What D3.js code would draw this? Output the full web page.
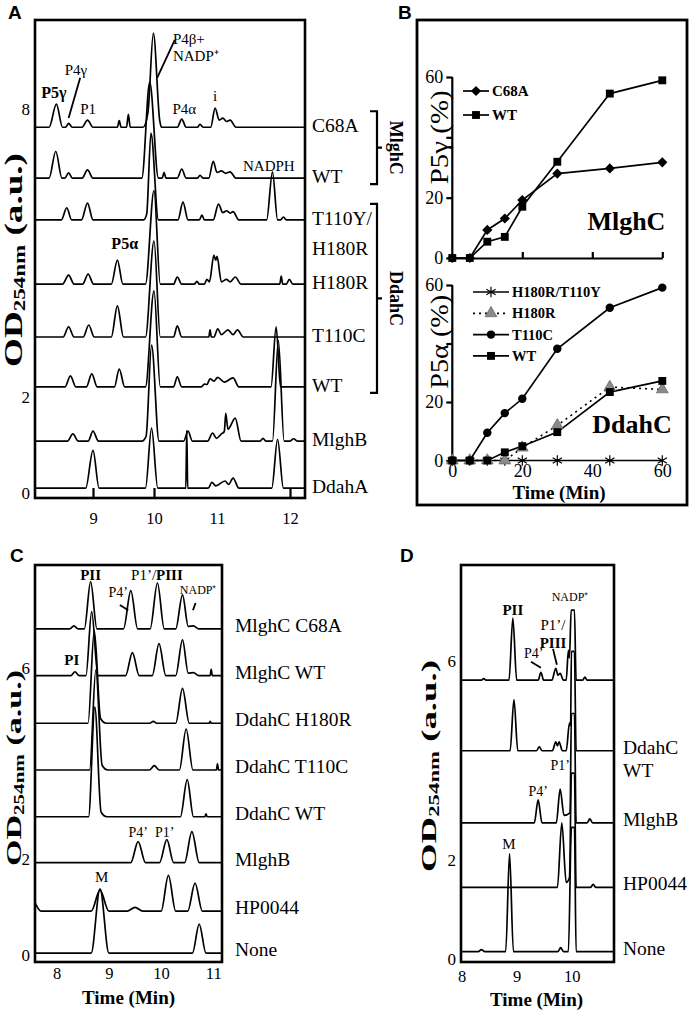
<!DOCTYPE html>
<html>
<head>
<meta charset="utf-8">
<script src="https://cdn.jsdelivr.net/npm/d3@7"></script>
<style>
body { margin: 0; background: #fff; }
</style>
</head>
<body>
<div id="chart"></div>
<script>
var serif = '"Liberation Serif","Times New Roman",serif';
var sans = '"Liberation Sans",Arial,sans-serif';
var intFmt = d3.format("d");

// ---------- panel A : chromatograms (time in min, signal in a.u. above each baseline)
var aXLabels = [9, 10, 11, 12];
var aXMarks = [9, 10, 12];
var aYLabels = [0, 2, 8];
var aNames = ["C68A", "WT", "T110Y/\nH180R", "H180R", "T110C", "WT", "MlghB", "DdahA"];
var aBase = [7.62, 6.56, 5.69, 4.35, 3.25, 2.21, 1.08, 0.1];
var aTraces = [
  [[8.28,0],[8.40,0.48],[8.50,0],[8.55,0],[8.60,0.08],[8.66,0],[8.82,0],[8.91,0.15],[9.0,0],[9.40,0],[9.43,0.14],[9.46,0],[9.55,0],[9.58,0.27],[9.61,0],[9.82,0],[9.90,0.3],[9.99,1.96],[10.09,0.15],[10.12,0],[10.37,0],[10.44,0.17],[10.51,0],[10.69,0],[10.73,0.06],[10.78,0],[10.9,0],[10.97,0.4],[11.03,0.15],[11.08,0.19],[11.13,0.12],[11.18,0.15],[11.26,0]],
  [[8.28,0],[8.39,0.56],[8.49,0],[8.54,0],[8.60,0.11],[8.66,0],[8.82,0],[8.91,0.17],[9.0,0],[9.80,0],[9.93,2.0],[10.07,0],[10.13,0],[10.16,0.12],[10.19,0],[10.37,0],[10.44,0.19],[10.51,0],[10.69,0],[10.73,0.06],[10.78,0],[10.87,0],[10.94,0.35],[11.0,0.12],[11.06,0.15],[11.12,0.1],[11.18,0.13],[11.26,0]],
  [[8.48,0],[8.57,0.25],[8.65,0],[8.81,0],[8.91,0.35],[9.0,0],[9.83,0],[9.88,0.12],[9.95,1.81],[10.07,0],[10.38,0],[10.46,0.37],[10.54,0],[10.72,0],[10.76,0.1],[10.8,0],[10.94,0],[11.02,0.33],[11.08,0.15],[11.13,0.19],[11.18,0.14],[11.22,0.17],[11.3,0],[11.68,0],[11.76,1.0],[11.83,0],[11.87,0],[11.91,0.06],[11.95,0]],
  [[8.5,0],[8.6,0.19],[8.69,0],[8.83,0],[8.92,0.21],[9.01,0],[9.3,0],[9.4,0.5],[9.49,0],[9.86,0],[10.0,1.95],[10.1,0],[10.31,0],[10.37,0.15],[10.44,0],[10.64,0],[10.68,0.06],[10.72,0],[10.8,0],[10.84,0.1],[10.88,0.05],[10.95,0.6],[10.98,0.5],[11.0,0.58],[11.06,0.05],[11.13,0.1],[11.18,0.05],[11.25,0.15],[11.33,0],[11.86,0],[11.88,0.17],[11.9,0],[11.95,0],[11.99,0.1],[12.04,0]],
  [[8.51,0],[8.6,0.21],[8.69,0],[8.84,0],[8.93,0.25],[9.02,0],[9.3,0],[9.4,0.65],[9.5,0],[9.86,0],[10.0,2.0],[10.1,0],[10.31,0],[10.37,0.23],[10.44,0],[10.87,0],[10.89,0.15],[10.91,0],[10.95,0],[11.01,0.17],[11.06,0.05],[11.15,0.15],[11.22,0.05],[11.28,0.15],[11.36,0]],
  [[8.54,0],[8.63,0.23],[8.72,0],[8.89,0],[8.98,0.27],[9.07,0],[9.35,0],[9.43,0.37],[9.52,0],[9.86,0],[10.0,2.0],[10.1,0],[10.31,0],[10.37,0.21],[10.44,0],[10.75,0],[10.8,0.06],[10.84,0.05],[10.89,0.17],[10.95,0.12],[11.01,0.2],[11.1,0.1],[11.22,0.19],[11.3,0],[11.74,0],[11.81,1.25],[11.87,0]],
  [[8.58,0],[8.67,0.15],[8.76,0],[8.92,0],[9.0,0.21],[9.09,0],[9.8,0],[9.87,0.1],[9.96,2.0],[10.08,0],[10.47,0],[10.54,0.21],[10.61,0],[10.85,0],[10.93,0.17],[10.99,0.06],[11.06,0.15],[11.1,0.2],[11.12,0.58],[11.15,0.25],[11.25,0.48],[11.33,0],[11.59,0],[11.63,0.06],[11.67,0],[11.76,0],[11.84,2.1],[11.92,0],[12.0,0],[12.05,0.05],[12.1,0]],
  [[8.88,0],[9.0,0.79],[9.1,0],[9.86,0],[9.96,1.25],[10.06,0],[10.505,0],[10.52,1.2],[10.535,0],[10.86,0],[10.92,0.12],[10.98,0.05],[11.11,0.15],[11.16,0.08],[11.22,0.21],[11.3,0],[11.75,0],[11.83,1.02],[11.91,0]]
];
var aBrackets = [["MlghC", 0, 1], ["DdahC", 2, 5]];
var aNotes = [
  {t: 8.36, v: 8.23, parts: [["P5γ", 1]], size: 16},
  {t: 8.72, v: 8.71, parts: [["P4γ", 0]], size: 15},
  {t: 8.92, v: 7.9, parts: [["P1", 0]], size: 15},
  {t: 10.3, v: 9.35, parts: [["P4β+", 0]], size: 15, anchor: "start"},
  {t: 10.3, v: 9.0, parts: [["NADP⁺", 0]], size: 15, anchor: "start"},
  {t: 10.48, v: 7.9, parts: [["P4α", 0]], size: 15},
  {t: 10.97, v: 8.17, parts: [["i", 0]], size: 15},
  {t: 11.71, v: 6.71, parts: [["NADPH", 0]], size: 15},
  {t: 9.52, v: 5.08, parts: [["P5α", 1]], size: 16}
];
var aLeaders = [[8.79, 8.65, 8.6, 7.81], [10.33, 9.44, 10.05, 8.65]];

// ---------- panel B : time course (% product)
var bTimes = [0, 5, 10, 15, 20, 30, 45, 60];
var bTicks = [0, 20, 40, 60];
var bMlghC_C68A = [0, 0, 9.3, 13.1, 19.2, 28.0, 29.7, 31.7];
var bMlghC_WT = [0, 0, 5.4, 7.0, 17.0, 31.9, 54.5, 58.9];
var bDdahC_H180R_T110Y = [0, 0, 0, 0, 0, 0, 0, 0];
var bDdahC_H180R = [0, 0, 0, 0, 4.4, 12.0, 25.1, 24.3];
var bDdahC_T110C = [0, 0, 9.5, 16.2, 21.1, 38.2, 52.2, 59.1];
var bDdahC_WT = [0, 0, 0, 2.8, 4.9, 9.7, 23.4, 27.2];

// ---------- panel C
var cXLabels = [8, 9, 10, 11];
var cYLabels = [0, 2, 6];
var cNames = ["MlghC C68A", "MlghC WT", "DdahC H180R", "DdahC T110C", "DdahC WT", "MlghB", "HP0044", "None"];
var cBase = [6.83, 5.85, 4.85, 3.87, 2.89, 1.93, 0.91, 0.03];
var cTraces = [
  [[8.25,0],[8.33,0.06],[8.41,0],[8.53,0],[8.65,0.99],[8.77,0],[9.28,0],[9.42,0.8],[9.55,0],[9.79,0],[9.93,0.96],[10.06,0],[10.28,0],[10.41,0.71],[10.52,0.05],[10.62,0.06],[10.72,0]],
  [[8.27,0],[8.35,0.08],[8.43,0],[8.56,0],[8.67,1.34],[8.79,0],[9.32,0],[9.45,0.48],[9.58,0],[9.83,0],[9.96,0.67],[10.09,0],[10.28,0],[10.41,0.75],[10.52,0.05],[10.62,0.06],[10.72,0],[10.94,0],[10.96,0.13],[10.98,0]],
  [[8.6,0],[8.72,1.95],[8.84,0.1],[8.95,0],[9.78,0],[9.85,0.04],[9.92,0],[10.28,0],[10.41,0.73],[10.54,0],[10.92,0],[10.94,0.04],[10.96,0]],
  [[8.63,0],[8.75,2.1],[8.87,0.1],[8.98,0],[9.78,0],[9.87,0.09],[9.96,0],[10.35,0],[10.48,0.86],[10.61,0],[11.06,0],[11.08,0.13],[11.1,0]],
  [[8.61,0],[8.73,2.3],[8.85,0.1],[8.96,0],[10.37,0],[10.5,0.78],[10.62,0],[10.84,0],[10.86,0.06],[10.88,0]],
  [[9.42,0],[9.56,0.44],[9.7,0],[9.97,0],[10.11,0.48],[10.24,0],[10.45,0],[10.59,0.65],[10.73,0]],
  [[7.58,0.19],[7.7,0],[8.66,0],[8.83,0.44],[9.0,0],[9.35,0],[9.5,0.08],[9.65,0],[10.0,0],[10.14,0.75],[10.28,0],[10.51,0],[10.65,0.59],[10.79,0]],
  [[8.66,0],[8.83,1.35],[9.0,0],[10.6,0],[10.73,0.61],[10.86,0]]
];
var cNotes = [
  {t: 8.65, v: 7.85, parts: [["PII", 1]], size: 15},
  {t: 9.92, v: 7.85, parts: [["P1’/", 0], ["PIII", 1]], size: 15},
  {t: 9.18, v: 7.5, parts: [["P4’", 0]], size: 14},
  {t: 10.71, v: 7.56, parts: [["NADP⁺", 0]], size: 12},
  {t: 8.29, v: 6.07, parts: [["PI", 1]], size: 15},
  {t: 9.56, v: 2.47, parts: [["P4’", 0]], size: 14},
  {t: 10.07, v: 2.47, parts: [["P1’", 0]], size: 14},
  {t: 8.86, v: 1.52, parts: [["M", 0]], size: 15}
];
var cLeaders = [[9.21, 7.33, 9.37, 7.22], [10.61, 7.22, 10.66, 7.37]];

// ---------- panel D
var dXLabels = [8, 9, 10];
var dYLabels = [0, 2, 6];
var dNames = ["", "DdahC\nWT", "MlghB", "HP0044", "None"];
var dBase = [5.61, 4.19, 2.74, 1.44, 0.15];
var dTraces = [
  [[8.36,0],[8.4,0.03],[8.44,0],[8.86,0],[8.93,1.25],[9.0,0],[9.39,0],[9.44,0.16],[9.49,0],[9.64,0],[9.71,0.24],[9.75,0.1],[9.79,0.14],[9.85,0],[9.9,0],[9.94,0.6],[9.96,0.45],[9.99,1.41],[10.05,1.41],[10.08,0],[10.2,0],[10.24,0.06],[10.28,0]],
  [[8.88,0],[8.95,1.03],[9.02,0],[9.36,0],[9.41,0.08],[9.46,0],[9.65,0],[9.71,0.18],[9.74,0.1],[9.77,0.18],[9.83,0],[9.9,0],[9.96,0.56],[9.98,0.5],[9.995,2.0],[10.05,2.0],[10.08,0]],
  [[9.32,0],[9.39,0.46],[9.46,0],[9.72,0],[9.79,0.68],[9.86,0.15],[9.97,0.2],[9.995,2.2],[10.05,2.2],[10.08,0],[10.28,0],[10.33,0.08],[10.38,0]],
  [[9.74,0],[9.82,1.3],[9.9,0.1],[9.96,0.2],[9.995,2.3],[10.05,2.3],[10.08,0],[10.34,0],[10.39,0.06],[10.44,0]],
  [[8.3,0],[8.36,0.04],[8.42,0],[8.8,0],[8.87,1.97],[8.94,0],[9.75,0],[9.8,0.08],[9.85,0],[9.94,0],[9.995,2.5],[10.05,2.5],[10.08,0]]
];
var dNotes = [
  {t: 9.97, v: 7.2, parts: [["NADP⁺", 0]], size: 12},
  {t: 8.93, v: 6.92, parts: [["PII", 1]], size: 15},
  {t: 9.66, v: 6.62, parts: [["P1’/", 0]], size: 15},
  {t: 9.66, v: 6.26, parts: [["PIII", 1]], size: 15},
  {t: 9.31, v: 6.06, parts: [["P4’", 0]], size: 14},
  {t: 9.79, v: 3.8, parts: [["P1’", 0]], size: 14},
  {t: 9.39, v: 3.28, parts: [["P4’", 0]], size: 14},
  {t: 8.86, v: 2.21, parts: [["M", 0]], size: 15}
];
var dLeaders = [[9.26, 5.98, 9.44, 5.86], [9.66, 6.24, 9.73, 5.92]];

var svg = d3.select("#chart").append("svg")
  .attr("width", 690).attr("height", 1013)
  .attr("font-family", serif);

// panel letters
[["A", 8, 19], ["B", 398, 19], ["C", 10, 562], ["D", 400, 562]].forEach(function(p){
  svg.append("text").attr("x", p[1]).attr("y", p[2])
    .attr("font-family", sans).attr("font-weight", "bold").attr("font-size", 19).text(p[0]);
});

function styleAxis(g, size){
  g.attr("font-family", serif).attr("font-size", size);
  g.select(".domain").remove();
  g.selectAll("line").attr("stroke-width", 2.2);
}

function yTitle(cx, cy, len, size){
  var t = svg.append("text").attr("transform", "translate(" + cx + "," + cy + ") rotate(-90)")
    .attr("text-anchor", "middle").attr("font-family", serif)
    .attr("font-weight", "bold").attr("font-size", size)
    .attr("textLength", len).attr("lengthAdjust", "spacingAndGlyphs");
  t.append("tspan").text("OD");
  t.append("tspan").attr("font-size", size * 0.62).attr("dy", 3).text("254nm");
  t.append("tspan").attr("dy", -3).text(" (a.u.)");
}

function drawChrom(o){
  var g = svg.append("g");
  var id = "clip" + o.id;
  svg.append("clipPath").attr("id", id).append("rect")
    .attr("x", o.frame[0]).attr("y", o.frame[1])
    .attr("width", o.frame[2] - o.frame[0]).attr("height", o.frame[3] - o.frame[1]);
  var tMin = o.x.invert(o.frame[0]), tMax = o.x.invert(o.frame[2]);
  var tg = g.append("g").attr("clip-path", "url(#" + id + ")");
  o.traces.forEach(function(pts, i){
    var p = pts.slice();
    if (p[0][0] > tMin) p.unshift([tMin, 0]);
    if (p[p.length - 1][0] < tMax) p.push([tMax, 0]);
    var line = d3.line()
      .x(function(d){ return o.x(d[0]); })
      .y(function(d){ return o.y(o.base[i] + d[1]); })
      .curve(d3.curveMonotoneX);
    tg.append("path").attr("d", line(p)).attr("fill", "none")
      .attr("stroke", "#000").attr("stroke-width", 1.7).attr("stroke-linejoin", "round");
  });
  // frame
  g.append("rect").attr("x", o.frame[0]).attr("y", o.frame[1])
    .attr("width", o.frame[2] - o.frame[0]).attr("height", o.frame[3] - o.frame[1])
    .attr("fill", "none").attr("stroke", "#000").attr("stroke-width", 2.6);
  // axes
  var ya = g.append("g").attr("transform", "translate(" + o.frame[0] + ",0)")
    .call(d3.axisLeft(o.y).tickValues(o.yLabels).tickSize(0).tickPadding(5).tickFormat(intFmt));
  styleAxis(ya, 17);
  var xa = g.append("g").attr("transform", "translate(0," + o.frame[3] + ")")
    .call(d3.axisBottom(o.x).tickValues(o.xLabels).tickSize(0).tickPadding(o.xPad).tickFormat(intFmt));
  styleAxis(xa, 16.5);
  if (o.xMarks){
    var xm = g.append("g").attr("transform", "translate(0," + o.frame[3] + ")")
      .call(d3.axisBottom(o.x).tickValues(o.xMarks).tickSize(-10).tickFormat(""));
    styleAxis(xm, 10);
  }
  if (o.title){
    g.append("text").attr("x", (o.frame[0] + o.frame[2]) / 2 + o.title[0]).attr("y", o.title[1])
      .attr("text-anchor", "middle").attr("font-weight", "bold").attr("font-size", 19).text("Time (Min)");
  }
  // trace names
  o.names.forEach(function(n, i){
    if (!n) return;
    var t = g.append("text").attr("x", o.labelX).attr("y", o.y(o.base[i]) + o.labelDy)
      .attr("font-size", 19.5).attr("dominant-baseline", "central");
    n.split("\n").forEach(function(s, k){
      t.append("tspan").attr("x", o.labelX).attr("dy", k ? o.lineGap : 0).text(s);
    });
  });
  // peak notes
  o.notes.forEach(function(n){
    var t = g.append("text").attr("x", o.x(n.t)).attr("y", o.y(n.v))
      .attr("text-anchor", n.anchor || "middle").attr("font-size", n.size);
    n.parts.forEach(function(p){
      t.append("tspan").attr("font-weight", p[1] ? "bold" : "normal").text(p[0]);
    });
  });
  o.leaders.forEach(function(l){
    g.append("line").attr("x1", o.x(l[0])).attr("y1", o.y(l[1]))
      .attr("x2", o.x(l[2])).attr("y2", o.y(l[3]))
      .attr("stroke", "#000").attr("stroke-width", 1.8);
  });
  return g;
}

// ---------- draw A
var xA = d3.scaleLinear().domain([9, 10, 11, 12]).range([93, 154, 217, 290]);
var yA = d3.scaleLinear().domain([0, 8]).range([493, 109]);
var gA = drawChrom({id: "A", x: xA, y: yA, frame: [35, 20, 305, 498], traces: aTraces, base: aBase,
  names: aNames, labelX: 312, labelDy: -2, lineGap: 30, yLabels: aYLabels, xLabels: aXLabels,
  xMarks: aXMarks, xPad: 14, notes: aNotes, leaders: aLeaders});
yTitle(22, 260, 214, 26);

aBrackets.forEach(function(b){
  var y0 = yA(aBase[b[1]]) - 16, y1 = yA(aBase[b[2]]) + 6, ym = (y0 + y1) / 2;
  gA.append("path")
    .attr("d", "M370," + y0 + "H377V" + y1 + "H370M377," + ym + "H382")
    .attr("fill", "none").attr("stroke", "#000").attr("stroke-width", 2.2);
  gA.append("text").attr("transform", "translate(390," + ym + ") rotate(90)")
    .attr("text-anchor", "middle").attr("font-weight", "bold").attr("font-size", 18).text(b[0]);
});

// ---------- draw B
svg.append("rect").attr("x", 417).attr("y", 20).attr("width", 270).attr("height", 485)
  .attr("fill", "none").attr("stroke", "#000").attr("stroke-width", 2.8);

var xB = d3.scaleLinear().domain([0, 60]).range([452.3, 662.3]);
var yB1 = d3.scaleLinear().domain([0, 60]).range([258, 77]);
var yB2 = d3.scaleLinear().domain([0, 60]).range([460.5, 285]);

function symPath(type){
  var s;
  if (type === "diamond" || type === "square") s = d3.symbol(d3.symbolSquare, type === "diamond" ? 52 : 62);
  else if (type === "circle") s = d3.symbol(d3.symbolCircle, 56);
  else if (type === "triangle") s = d3.symbol(d3.symbolTriangle, 60);
  else s = d3.symbol(d3.symbolAsterisk || d3.symbolCross, 80);
  return s();
}
function drawMarker(g, type, x, y, fill){
  var p = g.append("path").attr("d", symPath(type))
    .attr("transform", "translate(" + x + "," + y + ")" + (type === "diamond" ? " rotate(45)" : ""));
  if (type === "asterisk") p.attr("fill", "none").attr("stroke", "#000").attr("stroke-width", 1.2);
  else if (type === "triangle") p.attr("fill", fill).attr("stroke", "#6a6a6a").attr("stroke-width", 0.8);
  else p.attr("fill", "#000");
}

function drawSeriesPlot(y, series, legend, tag, tagPos){
  var g = svg.append("g");
  var ya = g.append("g").attr("transform", "translate(" + xB(0) + ",0)")
    .call(d3.axisLeft(y).tickValues(bTicks).tickSize(6).tickPadding(3)
      .tickFormat(function(d){ return d === 40 ? "" : d; }));
  ya.attr("font-family", serif).attr("font-size", 18);
  ya.selectAll("line,path").attr("stroke-width", 2.2);
  ya.select(".domain").attr("d", "M0," + y(60) + "V" + y(0));
  series.forEach(function(s){
    var line = d3.line().x(function(d, i){ return xB(bTimes[i]); }).y(function(d){ return y(d); });
    g.append("path").attr("d", line(s.vals)).attr("fill", "none").attr("stroke", "#000")
      .attr("stroke-width", s.dash ? 1.6 : 1.7).attr("stroke-dasharray", s.dash || null);
  });
  series.forEach(function(s){
    s.vals.forEach(function(v, i){ drawMarker(g, s.sym, xB(bTimes[i]), y(v), s.fill); });
  });
  series.forEach(function(s, i){
    var ly = legend.y + i * legend.step;
    g.append("line").attr("x1", legend.x0).attr("x2", legend.x1).attr("y1", ly).attr("y2", ly)
      .attr("stroke", "#000").attr("stroke-width", 1.7).attr("stroke-dasharray", s.dash || null);
    drawMarker(g, s.sym, (legend.x0 + legend.x1) / 2, ly, s.fill);
    g.append("text").attr("x", legend.x1 + 3).attr("y", ly).attr("dominant-baseline", "central")
      .attr("font-weight", "bold").attr("font-size", legend.size).text(s.name);
  });
  g.append("text").attr("x", xB(tagPos[0])).attr("y", y(tagPos[1]))
    .attr("font-weight", "bold").attr("font-size", 26).text(tag);
  return g;
}

var gB1 = drawSeriesPlot(yB1, [
  {name: "C68A", vals: bMlghC_C68A, sym: "diamond"},
  {name: "WT", vals: bMlghC_WT, sym: "square"}
], {x0: 463, x1: 489, y: 91, step: 24, size: 15}, "MlghC", [38.6, 9.3]);
var xb1 = gB1.append("g").attr("transform", "translate(0," + yB1(0) + ")")
  .call(d3.axisBottom(xB).tickValues([20, 40, 60]).tickSize(-6).tickSizeOuter(0).tickFormat(""));
xb1.selectAll("line,path").attr("stroke-width", 2.2);

var gB2 = drawSeriesPlot(yB2, [
  {name: "H180R/T110Y", vals: bDdahC_H180R_T110Y, sym: "asterisk"},
  {name: "H180R", vals: bDdahC_H180R, sym: "triangle", dash: "2,4", fill: "#8a8a8a"},
  {name: "T110C", vals: bDdahC_T110C, sym: "circle"},
  {name: "WT", vals: bDdahC_WT, sym: "square"}
], {x0: 473, x1: 509, y: 292, step: 21.3, size: 14.5}, "DdahC", [40, 9.4]);
var xb2 = gB2.append("g").attr("transform", "translate(0," + yB2(0) + ")")
  .call(d3.axisBottom(xB).tickValues(bTicks).tickSize(0).tickPadding(4));
xb2.attr("font-family", serif).attr("font-size", 18);
xb2.select(".domain").remove();
gB2.append("text").attr("x", 559).attr("y", 499).attr("text-anchor", "middle")
  .attr("font-weight", "bold").attr("font-size", 19).text("Time (Min)");

[["P5γ (%)", yB1, 40], ["P5α (%)", yB2, 40.6]].forEach(function(t){
  svg.append("text")
    .attr("transform", "translate(448," + t[1](t[2]) + ") rotate(-90)")
    .attr("text-anchor", "middle").attr("font-size", 26)
    .attr("textLength", 94).attr("lengthAdjust", "spacingAndGlyphs").text(t[0]);
});

// ---------- draw C
var xC = d3.scaleLinear().domain([8, 11]).range([56.7, 213.3]);
var yC = d3.scaleLinear().domain([0, 6]).range([954.6, 668.4]);
drawChrom({id: "C", x: xC, y: yC, frame: [35, 565, 222, 962], traces: cTraces, base: cBase,
  names: cNames, labelX: 235, labelDy: -4, lineGap: 23, yLabels: cYLabels, xLabels: cXLabels,
  xPad: 5, title: [0, 1004], notes: cNotes, leaders: cLeaders});
yTitle(21, 768, 196, 22);

// ---------- draw D
var xD = d3.scaleLinear().domain([9, 10]).range([516.7, 571.7]);
var yD = d3.scaleLinear().domain([0, 6]).range([959, 660.8]);
drawChrom({id: "D", x: xD, y: yD, frame: [461, 565, 614, 962], traces: dTraces, base: dBase,
  names: dNames, labelX: 623, labelDy: -4, lineGap: 23, yLabels: dYLabels, xLabels: dXLabels,
  xPad: 8, title: [-1, 1006], notes: dNotes, leaders: dLeaders});
yTitle(436, 766, 212, 22);
</script>
</body>
</html>
